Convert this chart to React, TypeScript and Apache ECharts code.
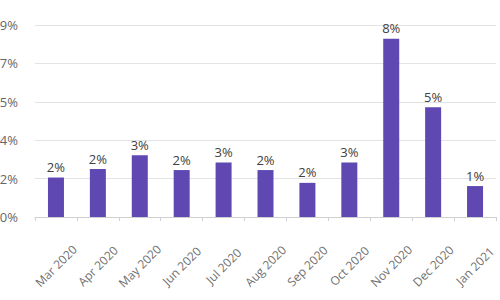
import React, { useEffect, useRef } from "react";
import * as echarts from "echarts";

const categories = ["Mar 2020", "Apr 2020", "May 2020", "Jun 2020", "Jul 2020", "Aug 2020", "Sep 2020", "Oct 2020", "Nov 2020", "Dec 2020", "Jan 2021"];
const values = [1.85, 2.25, 2.9, 2.2, 2.55, 2.2, 1.6, 2.55, 8.35, 5.15, 1.45];
const yTicks = { min: 0, max: 9, interval: 1.8 };

export default function App() {
  const ref = useRef<HTMLDivElement>(null);
  useEffect(() => {
    if (!ref.current) return;
    const chart = echarts.init(ref.current, null, { renderer: "svg" });
    chart.setOption({
      animation: false,
      textStyle: { fontFamily: "Open Sans" },
      grid: { left: 35, right: 4, top: 25, bottom: 83, containLabel: false, outerBoundsMode: "none" },
      xAxis: {
        type: "category",
        data: categories,
        axisLine: { lineStyle: { color: "#d0d0d0" } },
        axisTick: { show: true, alignWithLabel: false, length: 4, lineStyle: { color: "#d0d0d0" } },
        axisLabel: {
          rotate: 45,
          color: "#707070",
          fontSize: 12,
          margin: 49,
          interval: 0,
          align: "center",
          verticalAlign: "middle",
        },
      },
      yAxis: {
        type: "value",
        min: yTicks.min,
        max: yTicks.max,
        interval: yTicks.interval,
        axisLine: { show: false },
        axisTick: { show: false },
        splitLine: { lineStyle: { color: "#e3e3e3" } },
        axisLabel: {
          color: "#666666",
          fontSize: 13,
          margin: 17,
          formatter: (v: number) => Math.round(v) + "%",
        },
      },
      series: [
        {
          type: "bar",
          data: values,
          barWidth: 16,
          itemStyle: { color: "#5F48B2" },
          label: {
            show: true,
            position: "top",
            color: "#404040",
            fontSize: 13,
            distance: 4,
            formatter: (p: any) => Math.round(p.value) + "%",
          },
        },
      ],
    });
    return () => chart.dispose();
  }, []);
  return <div ref={ref} style={{ position: "absolute", left: 0, top: 0, width: 500, height: 300 }} />;
}
